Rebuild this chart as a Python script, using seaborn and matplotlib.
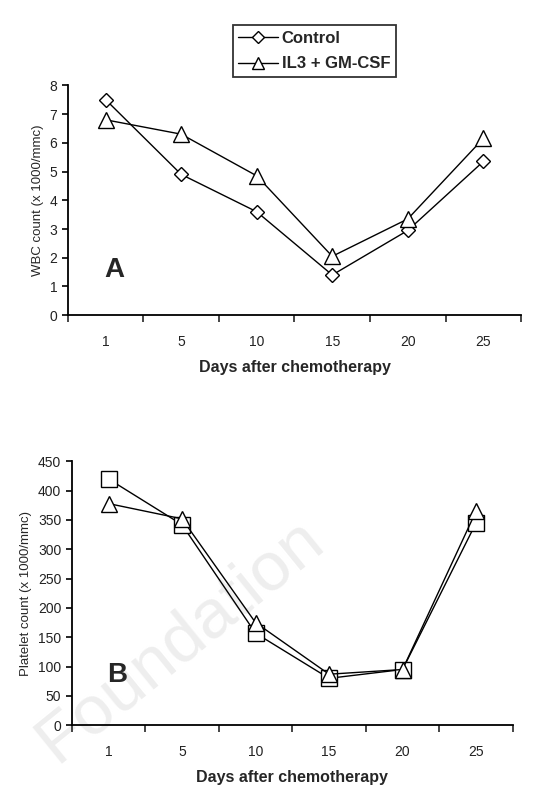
import matplotlib
matplotlib.use("Agg")
import matplotlib.pyplot as plt
import numpy as np
import pandas as pd
import seaborn as sns

days = ["1", "5", "10", "15", "20", "25"]

wbc_control = [7.5, 4.9, 3.6, 1.4, 2.95, 5.35]
wbc_il3 = [6.8, 6.3, 4.85, 2.05, 3.35, 6.15]

plt_control = [420, 342, 157, 80, 95, 345]
plt_il3 = [378, 352, 175, 87, 95, 365]

sns.set_theme(style="ticks")
plt.rcParams['font.family'] = ['Liberation Sans', 'DejaVu Sans']

fig = plt.figure(figsize=(5.52, 7.90), dpi=100)
ax_a = fig.add_axes([0.123, 0.601, 0.821, 0.291])
ax_b = fig.add_axes([0.130, 0.082, 0.799, 0.334])

# faint watermark from the source page, kept behind the axes
fig.text(0.325, 0.19, "Foundation", rotation=39, fontsize=50, color="#eeeeee",
         ha="center", va="center", zorder=-5)


def draw_panel(ax, control, il3, ctrl_marker, ctrl_size, ylim, ystep, ylabel, letter):
    df = pd.DataFrame({
        "pos": list(range(len(days))) * 2,
        "value": control + il3,
        "group": ["Control"] * len(days) + ["IL3 + GM-CSF"] * len(days),
    })
    sns.lineplot(data=df[df.group == "Control"], x="pos", y="value", ax=ax,
                 color="black", lw=1.0, marker=ctrl_marker, markersize=ctrl_size,
                 markerfacecolor="white", markeredgecolor="black", markeredgewidth=1.0,
                 label="Control")
    sns.lineplot(data=df[df.group == "IL3 + GM-CSF"], x="pos", y="value", ax=ax,
                 color="black", lw=1.0, marker="^", markersize=11,
                 markerfacecolor="white", markeredgecolor="black", markeredgewidth=1.0,
                 label="IL3 + GM-CSF")
    ax.patch.set_alpha(0)
    ax.set_xlim(-0.5, len(days) - 0.5)
    ax.set_ylim(*ylim)
    ax.set_yticks(np.arange(ylim[0], ylim[1] + ystep / 2, ystep))
    ax.set_xticks(range(len(days)))
    ax.set_xticklabels(days)
    ax.set_xticks(np.arange(-0.5, len(days) + 0.5, 1), minor=True)
    ax.tick_params(axis="x", which="major", length=0, pad=14, labelsize=10, colors="#222222")
    ax.tick_params(axis="x", which="minor", length=5, width=1.2, direction="out")
    ax.tick_params(axis="y", length=4, width=1.2, labelsize=10, colors="black",
                   labelcolor="#222222")
    for side in ["top", "right"]:
        ax.spines[side].set_visible(False)
    for side in ["left", "bottom"]:
        ax.spines[side].set_linewidth(1.3)
        ax.spines[side].set_color("black")
    ax.set_xlabel("Days after chemotherapy", fontsize=11.5, fontweight="bold", labelpad=8)
    ax.set_ylabel(ylabel, fontsize=9.5, labelpad=4)
    ax.text(0.08, 0.14, letter, transform=ax.transAxes, fontsize=20, fontweight="bold",
            ha="left", va="bottom")


draw_panel(ax_a, wbc_control, wbc_il3, "D", 7, (0, 8), 1,
           "WBC count (x 1000/mmc)", "A")
draw_panel(ax_b, plt_control, plt_il3, "s", 11, (0, 450), 50,
           "Platelet count (x 1000/mmc)", "B")

leg = ax_a.legend(loc="upper left", bbox_to_anchor=(0.345, 1.3), frameon=True,
                  fancybox=False, edgecolor="black",
                  prop={"weight": "bold", "size": 12}, handlelength=2.4,
                  handletextpad=0.2, borderpad=0.35, labelspacing=0.65, markerscale=0.85)
leg.get_frame().set_linewidth(1.3)
ax_b.get_legend().remove()

fig.savefig("out.png", dpi=100)
